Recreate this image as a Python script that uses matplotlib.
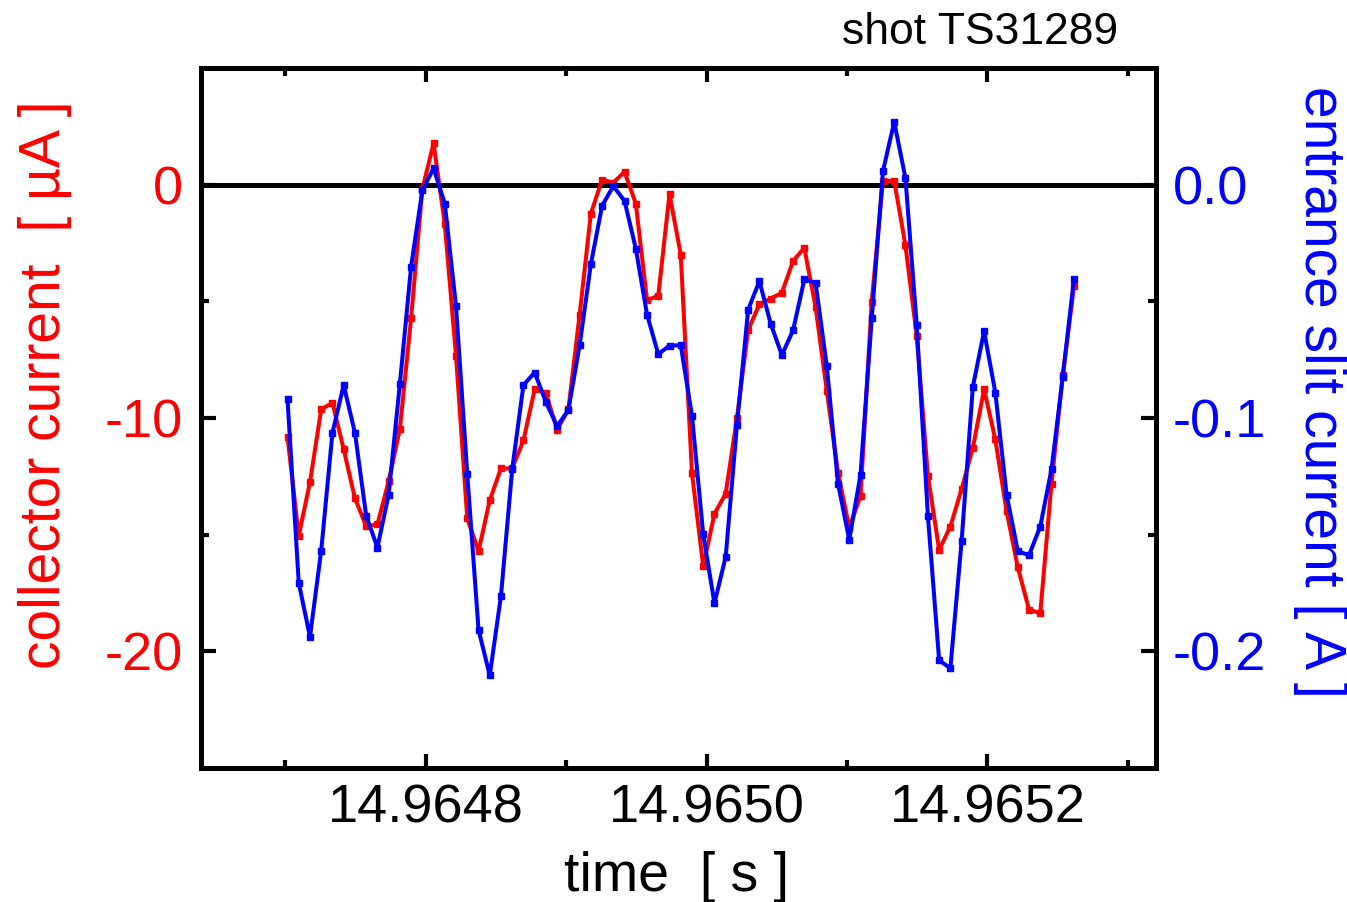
import numpy as np
import matplotlib
matplotlib.use("Agg")
import matplotlib.pyplot as plt
from matplotlib.ticker import FixedLocator, FormatStrFormatter

plt.rcParams['font.family'] = ['Liberation Sans', 'DejaVu Sans']
plt.rcParams['axes.unicode_minus'] = False

# ---- data ----
t_start = 14.9647016   # s, first sample
dt = 8e-6              # s, sampling interval

collector_uA = [-10.81, -15.06, -12.75, -9.63, -9.35, -11.34, -13.44, -14.63, -14.56, -12.72,
                -10.47, -5.73, -0.20, 1.77, -1.70, -7.36, -14.30, -15.71, -13.53, -12.16,
                -12.16, -10.96, -8.77, -8.94, -10.50, -9.63, -5.57, -1.24, 0.21, 0.09,
                0.55, -0.81, -4.96, -4.76, -0.40, -3.00, -12.37, -16.35, -14.11, -13.24,
                -10.01, -6.23, -5.13, -4.88, -4.64, -3.27, -2.71, -5.24, -8.83, -12.35,
                -14.70, -13.35, -5.01, 0.17, 0.16, -2.60, -6.47, -12.47, -15.66, -14.65,
                -13.04, -11.28, -8.77, -10.92, -13.99, -16.40, -18.21, -18.37, -12.81, -8.17,
                -4.36]

slit_A = [-0.0920, -0.1706, -0.1938, -0.1568, -0.1063, -0.0859, -0.1063, -0.1418, -0.1555, -0.1329,
          -0.0854, -0.0351, -0.0025, 0.0070, -0.0081, -0.0522, -0.1241, -0.1907, -0.2103, -0.1762,
          -0.1219, -0.0859, -0.0805, -0.0932, -0.1035, -0.0966, -0.0688, -0.0341, -0.0090, -0.0006,
          -0.0070, -0.0274, -0.0557, -0.0726, -0.0690, -0.0688, -0.0990, -0.1499, -0.1794, -0.1595,
          -0.1032, -0.0536, -0.0413, -0.0595, -0.0730, -0.0624, -0.0406, -0.0420, -0.0779, -0.1281,
          -0.1522, -0.1243, -0.0573, 0.0058, 0.0269, 0.0028, -0.0600, -0.1420, -0.2039, -0.2072,
          -0.1527, -0.0866, -0.0628, -0.0891, -0.1328, -0.1571, -0.1588, -0.1465, -0.1219, -0.0825,
          -0.0403]

x_major = [14.9648, 14.9650, 14.9652]
x_minor = [14.9647, 14.9649, 14.9651, 14.9653]
yl_major = [-20, -10, 0]
yl_minor = [-15, -5]
yr_major = [-0.2, -0.1, 0.0]
yr_minor = [-0.15, -0.05]

time = t_start + dt * np.arange(len(collector_uA))

# ---- figure ----
W, H = 1347, 902
fig = plt.figure(figsize=(W / 100, H / 100), dpi=100)
L, R, T, B = 201, 1156, 68, 768
ax = fig.add_axes([L / W, 1 - B / H, (R - L) / W, (B - T) / H])
ax2 = ax.twinx()

red = '#ff0000'
blue = '#0000ff'

ax.axhline(0, color='black', lw=3.6, zorder=1)
ax.plot(time, collector_uA, color=red, lw=2.9, marker='s', ms=4, mec=red, mfc=red, zorder=3)
ax2.plot(time, slit_A, color=blue, lw=2.9, marker='s', ms=4, mec=blue, mfc=blue, zorder=3)

ax.set_xlim(14.96464, 14.96532)
ax.set_ylim(-25, 5)
ax2.set_ylim(-0.25, 0.05)

ax.xaxis.set_major_locator(FixedLocator(x_major))
ax.xaxis.set_minor_locator(FixedLocator(x_minor))
ax.xaxis.set_major_formatter(FormatStrFormatter('%.4f'))
ax.yaxis.set_major_locator(FixedLocator(yl_major))
ax.yaxis.set_minor_locator(FixedLocator(yl_minor))
ax.yaxis.set_major_formatter(FormatStrFormatter('%d'))
ax2.yaxis.set_major_locator(FixedLocator(yr_major))
ax2.yaxis.set_minor_locator(FixedLocator(yr_minor))
ax2.yaxis.set_major_formatter(FormatStrFormatter('%.1f'))

for a in (ax, ax2):
    for s in a.spines.values():
        s.set_linewidth(3.6)

ax.tick_params(axis='x', which='both', direction='in', top=True, bottom=True,
               labelsize=39, pad=11, colors='black')
ax.tick_params(axis='x', which='major', length=10, width=3)
ax.tick_params(axis='x', which='minor', length=6, width=3)
ax.tick_params(axis='y', which='both', direction='in', left=True, right=False,
               labelsize=39, pad=13, labelcolor=red, color='black')
ax.tick_params(axis='y', which='major', length=11, width=3)
ax.tick_params(axis='y', which='minor', length=6, width=3)
ax2.tick_params(axis='y', which='both', direction='in', right=True, left=False,
                labelsize=39, pad=12, labelcolor=blue, color='black')
ax2.tick_params(axis='y', which='major', length=11, width=3)
ax2.tick_params(axis='y', which='minor', length=6, width=3)

fig.text(677 / W, 1 - 877 / H, 'time  [ s ]', ha='center', va='center', fontsize=40, color='black')
fig.text(45 / W, 1 - 385 / H, 'collector current  [ µA ]', ha='center', va='center',
         rotation=90, fontsize=41, color=red)
fig.text(1320 / W, 1 - 392 / H, 'entrance slit current [ A ]', ha='center', va='center',
         rotation=270, fontsize=41, color=blue)
fig.text(1118 / W, 1 - 33 / H, 'shot TS31289', ha='right', va='center', fontsize=32, color='black')

fig.savefig('out.png', dpi=100)
